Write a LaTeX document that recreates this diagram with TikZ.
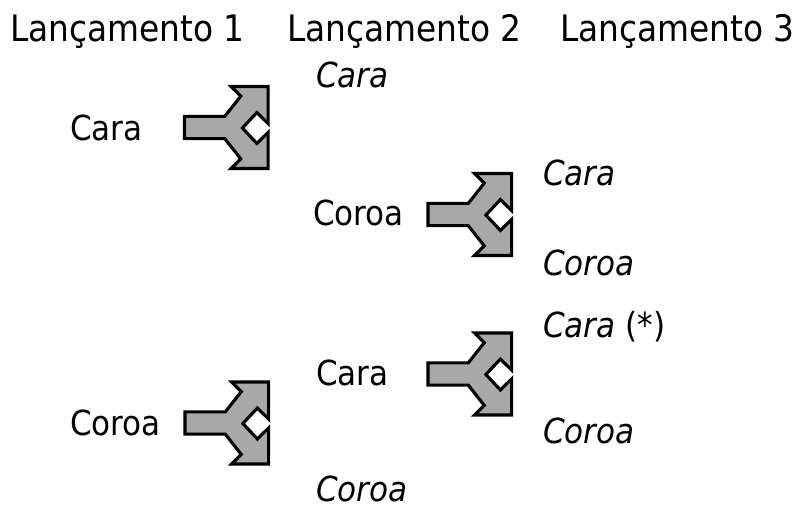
\documentclass[tikz,border=0pt]{standalone}
\usepackage{fontspec}
\setmainfont{DejaVu Sans Condensed}
\definecolor{forkgray}{HTML}{A8A8A8}
\begin{document}
\begin{tikzpicture}[x=1pt,y=-1pt,
  forkline/.style={draw=black, line width=3.1pt, fill=forkgray, line join=miter},
  lbl/.style={anchor=base west, inner sep=0pt, text depth=0pt, font=\fontsize{34.5}{40}\selectfont},
  itl/.style={anchor=base west, inner sep=0pt, text depth=0pt, font=\fontsize{34.5}{40}\selectfont\itshape},
  hdr/.style={anchor=base west, inner sep=0pt, font=\fontsize{36.5}{40}\selectfont},
  fork/.pic={
    \draw[forkline] (0,31) -- (41.7,31) -- (58.3,10) -- (48.3,0) -- (86.7,0)
      -- (86.7,38.5) -- (75,27) -- (60,43) -- (75,59) -- (86.7,47.5)
      -- (86.7,85) -- (48.3,85) -- (58.3,75) -- (41.7,54) -- (0,54) -- cycle;
  }]
\useasboundingbox (0,0) rectangle (800,509);
% arrows
\pic[scale=0.965] (a1) at (184.5,86.5) {fork};
\pic[scale=0.965] (a2) at (428,173.5) {fork};
\pic[scale=0.965] (a3) at (428,333) {fork};
\pic[scale=0.965] (a4) at (185,382) {fork};
% headers
\node[hdr] (h1) at (10,41) {Lançamento 1};
\node[hdr] (h2) at (287,41) {Lançamento 2};
\node[hdr] (h3) at (560,41) {Lançamento 3};
% column 1
\node[lbl] (l1a) at (70,140) {Cara};
\node[lbl] (l1b) at (70,435) {Coroa};
% column 2
\node[itl] (l2a) at (316,87) {Cara};
\node[lbl] (l2b) at (313,225) {Coroa};
\node[lbl] (l2c) at (316,385) {Cara};
\node[itl] (l2d) at (316,501) {Coroa};
% column 3
\node[itl] (l3a) at (543,185) {Cara};
\node[itl] (l3b) at (543,275) {Coroa};
\node[lbl] (l3c) at (543,337) {\textit{Cara} (*)};
\node[itl] (l3d) at (543,443) {Coroa};
\end{tikzpicture}
\end{document}
